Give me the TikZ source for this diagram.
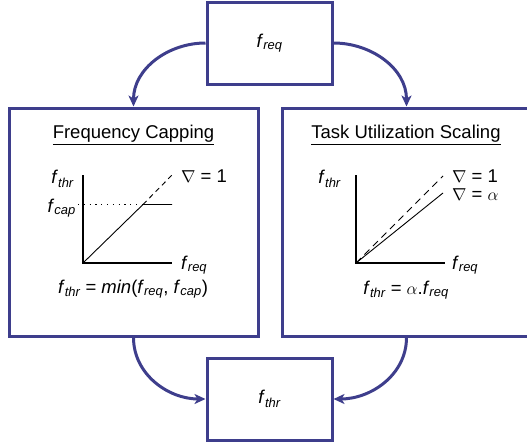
\documentclass[tikz,border=0pt]{standalone}
\usepackage{amsmath}
\usepackage{fontspec}
\setmainfont{Liberation Sans}
\usetikzlibrary{arrows.meta}
\definecolor{boxblue}{RGB}{62,62,140}
\newcommand{\fq}[1]{\textit{f}$_{\textit{#1}}$}
\begin{document}
\begin{tikzpicture}[x=1pt,y=-1pt,
  every node/.style={font=\fontsize{18.5}{22}\selectfont},
  bluebox/.style={draw=boxblue,line width=3pt,minimum width=#1,inner sep=0pt},
  conn/.style={draw=boxblue,line width=3pt,-{Stealth[length=11pt,width=10pt,inset=3pt]}},
  lbl/.style={inner sep=0pt},
  axisline/.style={line width=1.2pt},
  curve/.style={line width=0.9pt}]
\useasboundingbox (0,0) rectangle (527,447);
% boxes
\node[bluebox=125pt,minimum height=82pt] (top) at (269.5,43) {\fq{req}};
\node[bluebox=249pt,minimum height=228pt] (left) at (133.5,222) {};
\node[bluebox=249pt,minimum height=228pt] (right) at (406.5,222) {};
\node[bluebox=125pt,minimum height=82pt] (bot) at (269.5,399) {\fq{thr}};
% connectors
\draw[conn] (top.west) to[out=180,in=90] (left.north);
\draw[conn] (top.east) to[out=0,in=90] (right.north);
\draw[conn] (left.south) to[out=-90,in=180] (bot.west);
\draw[conn] (right.south) to[out=-90,in=0] (bot.east);
% left panel
\node[lbl,anchor=base] (ltitle) at (133.5,138) {\underline{Frequency Capping}};
\coordinate (lo) at (83,263);
\draw[axisline] (83,175) -- (lo) -- (172,263);
\draw[curve] (lo) -- (143,204.5) -- (172,204.5);
\draw[curve,dash pattern=on 5pt off 4pt] (143,204.5) -- (172,175);
\draw[curve,dash pattern=on 1.2pt off 4.6pt] (78,204.5) -- (143,204.5);
\node[lbl,anchor=east] (lfthr) at (74,179) {\fq{thr}};
\node[lbl,anchor=east] (lfcap) at (76,208) {\fq{cap}};
\node[lbl,anchor=west] (lfreq) at (181,265) {\fq{req}};
\node[lbl,anchor=west] (lgrad) at (181,176) {$\nabla$ = 1};
\node[lbl] (lform) at (133,289) {\fq{thr} = \textit{min}(\fq{req}, \fq{cap})};
% right panel
\node[lbl,anchor=base] (rtitle) at (406,138) {\underline{Task Utilization Scaling}};
\coordinate (ro) at (356,263);
\draw[axisline] (356,175) -- (ro) -- (445,263);
\draw[curve] (ro) -- (443,193);
\draw[curve,dash pattern=on 7pt off 5pt] (ro) -- (443,176);
\node[lbl,anchor=east] (rfthr) at (341,179) {\fq{thr}};
\node[lbl,anchor=west] (rfreq) at (452,265) {\fq{req}};
\node[lbl,anchor=west] (rgrad1) at (452,176) {$\nabla$ = 1};
\node[lbl,anchor=west] (rgrad2) at (452,195) {$\nabla$ = $\alpha$};
\node[lbl] (rform) at (406,290) {\fq{thr} = $\alpha$.\fq{req}};
\end{tikzpicture}
\end{document}
